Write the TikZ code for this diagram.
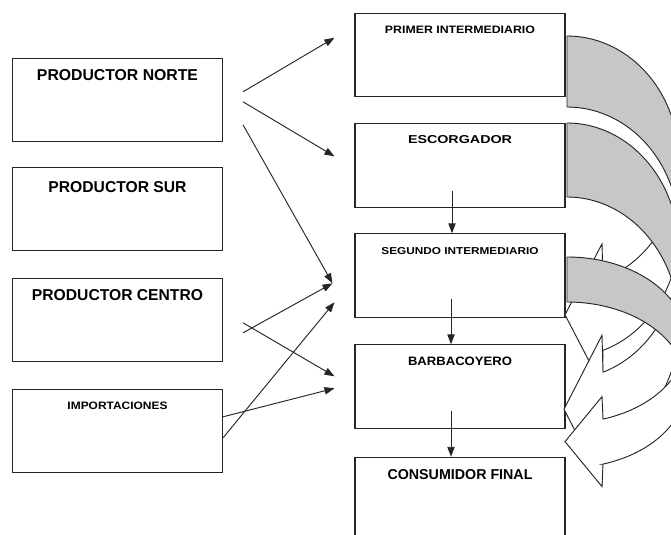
\documentclass[tikz,border=0pt]{standalone}
\usepackage{fontspec}
\setmainfont{Liberation Sans}
\usepackage{graphicx}
\usetikzlibrary{arrows.meta,calc,positioning}

\newlength{\pxu}
\setlength{\pxu}{0.03cm}
\definecolor{lomo}{gray}{0.78}
\newcommand{\rotulo}[3]{\resizebox{#1\pxu}{#2\pxu}{\bfseries #3}}

% curved arrow: #1 left x, #2 centre y, #3 x radius, #4 y radius, #5 band, #6 tip x
\newcommand{\curvaflecha}[6]{%
  \pgfmathsetmacro{\tj}{acos(36/#3)}%
  \pgfmathsetmacro{\yi}{#2+#4*sin(\tj)}%
  \pgfmathsetmacro{\yo}{\yi+#5}%
  % back of the band
  \filldraw[lomoband] plot[domain=90:0] ({#1+#3*cos(\x)},{#2-#4*sin(\x)})
    -- plot[domain=0:90] ({#1+#3*cos(\x)},{#2+#5-#4*sin(\x)}) -- cycle;
  % front of the band with its head
  \filldraw[frente] plot[domain=0:\tj] ({#1+#3*cos(\x)},{#2+#4*sin(\x)})
    -- ({#1+35},{\yi-#5/2}) -- (#6,{\yi+#5/2}) -- ({#1+35},{\yo+#5/2})
    -- ({#1+36},\yo) -- plot[domain=\tj:0] ({#1+#3*cos(\x)},{#2+#5+#4*sin(\x)}) -- cycle;
}

\begin{document}
\begin{tikzpicture}[x=0.03cm, y=-0.03cm,
  caja/.style={draw=black!85, line width=0.9pt, minimum width=6.3cm, minimum height=2.5cm, inner sep=0pt},
  texto/.style={inner sep=0pt},
  flecha/.style={draw=black!85, line width=0.8pt, -{Triangle[length=0.3cm,width=0.22cm]}},
  lomoband/.style={fill=lomo, draw=black!85, line width=0.8pt, samples=60},
  frente/.style={fill=white, draw=black!85, line width=0.8pt, samples=60}]
\useasboundingbox (0,0) rectangle (671,535);
\clip (0,0) rectangle (671,535);
\fill[white] (0,0) rectangle (671,535);

%productores
\node[caja] (norte) at (117.5,100) {};
\node[texto] (norte-t) at ($(norte.north)+(0,17.7)$) {\rotulo{161}{11}{PRODUCTOR NORTE}};
\node[caja] (sur) at (117.5,209) {};
\node[texto] (sur-t) at ($(sur.north)+(0,20)$) {\rotulo{138}{11}{PRODUCTOR SUR}};
\node[caja] (centro) at (117.5,320) {};
\node[texto] (centro-t) at ($(centro.north)+(0,17)$) {\rotulo{171}{11}{PRODUCTOR CENTRO}};
\node[caja] (importa) at (117.5,431) {};
\node[texto] (importa-t) at ($(importa.north)+(0,16.7)$) {\rotulo{100}{7.5}{IMPORTACIONES}};

%cadena
\node[caja] (primer) at (460,55) {};
\node[texto] (primer-t) at ($(primer.north)+(0,16.7)$) {\rotulo{150}{7.5}{PRIMER INTERMEDIARIO}};
\node[caja] (escog) at (460,165.5) {};
\node[texto] (escog-t) at ($(escog.north)+(0,16)$) {\rotulo{104}{8}{ESCORGADOR}};
\node[caja] (segundo) at (460,275.5) {};
\node[texto] (segundo-t) at ($(segundo.north)+(0,18)$) {\rotulo{157}{7}{SEGUNDO INTERMEDIARIO}};
\node[caja] (barba) at (460,386.5) {};
\node[texto] (barba-t) at ($(barba.north)+(0,17)$) {\rotulo{104}{8.5}{BARBACOYERO}};
\node[caja] (consum) at (460,499) {};
\node[texto] (consum-t) at ($(consum.north)+(0,18)$) {\rotulo{145}{10}{CONSUMIDOR FINAL}};

%flechas rectas
\draw[flecha] ($(norte.north east)+(20,34)$) -- ($(primer.north west)+(-20,25)$);
\draw[flecha] ($(norte.north east)+(20,44)$) -- ($(escog.north west)+(-20,33)$);
\draw[flecha] ($(norte.north east)+(20,67)$) -- ($(segundo.north west)+(-22,50)$);
\draw[flecha] ($(centro.north east)+(20,55)$) -- ($(segundo.north west)+(-22,50)$);
\draw[flecha] ($(centro.north east)+(20,45)$) -- ($(barba.north west)+(-20,32)$);
\draw[flecha] ($(importa.north east)+(0,28)$) -- ($(barba.north west)+(-20,44)$);
\draw[flecha] ($(importa.north east)+(0,49)$) -- ($(segundo.north west)+(-20,69)$);

%flechas verticales
\draw[flecha] ($(escog.south)+(-8,-17)$) -- ($(segundo.north)+(-8,0)$);
\draw[flecha] ($(segundo.south)+(-9,-19)$) -- ($(barba.north)+(-9,0)$);
\draw[flecha] ($(barba.south)+(-9,-18)$) -- ($(consum.north)+(-9,0)$);

%flechas curvas
\curvaflecha{567}{161}{112}{125}{71}{565}
\curvaflecha{567}{251}{112}{128}{74}{564}
\curvaflecha{567}{340}{119}{83}{45}{565}
\end{tikzpicture}
\end{document}
